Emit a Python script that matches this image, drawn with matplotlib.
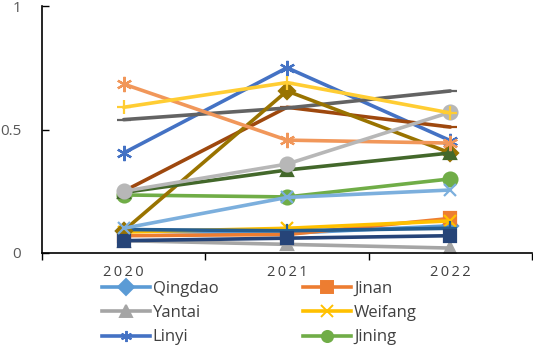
import matplotlib
matplotlib.use("Agg")
import matplotlib.pyplot as plt
from matplotlib.lines import Line2D

years = ["2020", "2021", "2022"]
cities = ["Qingdao", "Jinan", "Yantai", "Weifang", "Linyi", "Jining",
          "Zibo", "Dezhou", "Liaocheng", "Weihai", "Taian", "Heze",
          "Binzhou", "Dongying", "Zaozhuang", "Rizhao"]

qingdao = [0.09, 0.08, 0.11]
jinan = [0.07, 0.075, 0.14]
yantai = [0.05, 0.035, 0.02]
weifang = [0.085, 0.10, 0.13]
linyi = [0.405, 0.75, 0.455]
jining = [0.235, 0.227, 0.30]
zibo = [0.095, 0.09, 0.10]
dezhou = [0.25, 0.59, 0.51]
liaocheng = [0.54, 0.587, 0.656]
weihai = [0.09, 0.656, 0.405]
taian = [0.05, 0.06, 0.07]
heze = [0.245, 0.336, 0.405]
binzhou = [0.10, 0.225, 0.255]
dongying = [0.684, 0.457, 0.445]
zaozhuang = [0.25, 0.36, 0.57]
rizhao = [0.59, 0.69, 0.567]

series = [qingdao, jinan, yantai, weifang, linyi, jining, zibo, dezhou,
          liaocheng, weihai, taian, heze, binzhou, dongying, zaozhuang, rizhao]

colors = ["#5B9BD5", "#ED7D31", "#A5A5A5", "#FFC000", "#4472C4", "#70AD47",
          "#255E91", "#9E480E", "#636363", "#997300", "#264478", "#43682B",
          "#7CAFDD", "#F1975A", "#B7B7B7", "#FFCD33"]
ast = (6, 2, 0)
markers = ["D", "s", "^", "x", ast, "o", "+", "_", "_", "D", "s", "^",
           "x", ast, "o", "+"]
msizes = [8, 9, 9, 9, 11, 10, 10, 10, 10, 8, 9, 9, 9, 11, 10, 10]

W, H = 533, 347
fig = plt.figure(figsize=(W / 100, H / 100), dpi=100)
ax = fig.add_axes([42 / W, 1 - 253 / H, 490 / W, 247 / H])

x = list(range(len(years)))
handles = []
for vals, c, m, ms, name in zip(series, colors, markers, msizes, cities):
    lines = ax.plot(x, vals, color=c, lw=2.6, marker=m, markersize=ms,
                    markerfacecolor=c, markeredgecolor=c, markeredgewidth=1.6,
                    solid_capstyle="round", label=name)
    handles.append(lines[0])

ax.set_xlim(-0.5, 2.5)
ax.set_ylim(0, 1)
ax.set_yticks([0, 0.5, 1])
ax.set_yticklabels(["0", "0.5", "1"])
ax.tick_params(axis="y", direction="in", length=5, width=1, colors="black",
               labelcolor="#595959", labelsize=11, pad=15)
for lab in ax.get_yticklabels():
    lab.set_fontfamily("Open Sans")

ax.set_xticks([-0.5, 0.5, 1.5, 2.5])
ax.set_xticklabels([])
ax.tick_params(axis="x", direction="out", length=5, width=1, colors="black")
for i, yr in enumerate(years):
    ax.text(i, -0.08, "\u2009".join(yr), ha="center", va="center",
            fontsize=10.5, color="#404040", family="Open Sans",
            transform=ax.transData, clip_on=False)

ax.spines["top"].set_visible(False)
ax.spines["right"].set_visible(False)
ax.spines["left"].set_linewidth(1.2)
ax.spines["bottom"].set_linewidth(1.2)

order = [0, 2, 4, 1, 3, 5]
leg_handles = []
for i in order:
    h = handles[i]
    leg_handles.append(Line2D([], [], color=h.get_color(), lw=2.6,
                              marker=h.get_marker(), markersize=8,
                              markerfacecolor=h.get_color(),
                              markeredgecolor=h.get_color(),
                              markeredgewidth=1.4))
leg = fig.legend(handles=leg_handles, labels=[cities[i] for i in order],
                 ncol=2, loc="upper left", bbox_to_anchor=(95 / W, 1 - 274 / H),
                 frameon=False, handlelength=2.9,
                 handletextpad=0.15, columnspacing=5.1, labelspacing=0.5,
                 borderaxespad=0, prop={"family": "Open Sans", "size": 12})
for t in leg.get_texts():
    t.set_color("#404040")

fig.savefig("out.png", dpi=100)
